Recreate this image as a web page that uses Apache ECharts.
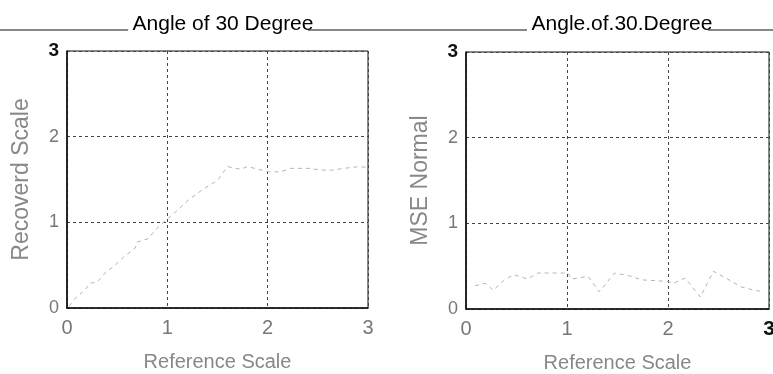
<!DOCTYPE html>
<html>
<head>
<meta charset="utf-8">
<script src="https://cdn.jsdelivr.net/npm/echarts@6/dist/echarts.min.js"></script>
<style>
  html, body { margin: 0; padding: 0; background: #fff; }
  #chart { width: 773px; height: 374px; }
</style>
</head>
<body>
<div id="chart"></div>
<script>
// left panel: recovered scale against reference scale
const refScaleA = [0.02, 0.08, 0.18, 0.23, 0.30, 0.38, 0.48, 0.56, 0.68, 0.70, 0.81, 0.88, 0.98,
  1.08, 1.21, 1.36, 1.50, 1.60, 1.73, 1.80, 2.01, 2.13, 2.23, 2.41, 2.53, 2.65, 2.76, 2.91, 3.0]
const recovered = [0.02, 0.11, 0.21, 0.29, 0.30, 0.41, 0.50, 0.59, 0.70, 0.77, 0.81, 0.91, 1.02,
  1.12, 1.26, 1.39, 1.49, 1.65, 1.62, 1.65, 1.59, 1.59, 1.63, 1.63, 1.61, 1.61, 1.63, 1.65, 1.64]

// right panel: normalised MSE
const refScaleB = [0.09, 0.19, 0.27, 0.37, 0.47, 0.61, 0.71, 0.87, 1.01, 1.04, 1.21, 1.32, 1.47,
  1.61, 1.74, 1.90, 2.0, 2.05, 2.17, 2.32, 2.45, 2.59, 2.72, 2.85, 2.95]
const mseNormal = [0.27, 0.30, 0.22, 0.33, 0.40, 0.35, 0.42, 0.42, 0.42, 0.35, 0.38, 0.20, 0.42,
  0.39, 0.34, 0.33, 0.32, 0.30, 0.36, 0.14, 0.44, 0.35, 0.26, 0.22, 0.20]

const titles = ['Angle of 30 Degree', 'Angle.of.30.Degree']
const yNames = ['Recoverd Scale', 'MSE Normal']
const xName = 'Reference Scale'

const FONT = 'Liberation Sans, Arial, sans-serif'
const chart = echarts.init(document.getElementById('chart'))

const pair = (xs, ys) => xs.map((x, i) => [x, ys[i]])

const splitLine = { show: true, lineStyle: { color: '#444', type: [3, 3], width: 1 } }
const axisLine = { show: true, onZero: false, lineStyle: { color: '#111', width: 1.6 } }

// bold black label for the end tick, grey for the rest
const tickLabel = (size, boldLast) => ({
  fontFamily: FONT,
  fontSize: size,
  color: '#777',
  formatter: v => (boldLast && v === 3 ? '{b|3}' : String(v)),
  rich: { b: { fontFamily: FONT, fontSize: size + 1, fontWeight: 'bold', color: '#111' } }
})

const makeX = (idx, boldLast) => ({
  type: 'value', gridIndex: idx, min: 0, max: 3, interval: 1,
  name: xName, nameLocation: 'middle', nameGap: 44,
  nameTextStyle: { fontFamily: FONT, fontSize: 20, color: '#888' },
  axisLine, axisTick: { show: false }, splitLine,
  axisLabel: Object.assign(tickLabel(20, boldLast), { margin: 10 })
})

const makeY = idx => ({
  type: 'value', gridIndex: idx, min: 0, max: 3, interval: 1,
  name: yNames[idx], nameLocation: 'middle', nameGap: 34,
  nameTextStyle: { fontFamily: FONT, fontSize: 23, color: '#888' },
  axisLine, axisTick: { show: false }, splitLine,
  axisLabel: Object.assign(tickLabel(18, true), { margin: 8 })
})

const lineSeries = (idx, data) => ({
  type: 'line', xAxisIndex: idx, yAxisIndex: idx, data,
  symbol: 'none', smooth: false,
  lineStyle: { color: '#b4b4b4', width: 1, type: [4, 4] }
})

chart.setOption({
  backgroundColor: '#fff',
  animation: false,
  title: [
    { text: titles[0], left: 218, top: 9, textAlign: 'center',
      textStyle: { fontFamily: FONT, fontSize: 21, fontWeight: 'normal', color: '#000' } },
    { text: titles[1], left: 617, top: 9, textAlign: 'center',
      textStyle: { fontFamily: FONT, fontSize: 21, fontWeight: 'normal', color: '#000' } }
  ],
  grid: [
    { left: 67, right: 405, top: 51, bottom: 66, show: true, borderColor: '#111', borderWidth: 1,
      outerBoundsMode: 'none' },
    { left: 466, right: 4, top: 52, bottom: 65, show: true, borderColor: '#111', borderWidth: 1,
      outerBoundsMode: 'none' }
  ],
  xAxis: [makeX(0, false), makeX(1, true)],
  yAxis: [makeY(0), makeY(1)],
  series: [
    lineSeries(0, pair(refScaleA, recovered)),
    lineSeries(1, pair(refScaleB, mseNormal))
  ],
  // the rule running through the title line of the scanned figure
  graphic: [
    { type: 'line', shape: { x1: 0, y1: 30, x2: 128, y2: 30 }, style: { stroke: '#111', lineWidth: 1.2 } },
    { type: 'line', shape: { x1: 308, y1: 30, x2: 527, y2: 30 }, style: { stroke: '#111', lineWidth: 1.2 } },
    { type: 'line', shape: { x1: 708, y1: 30, x2: 773, y2: 30 }, style: { stroke: '#111', lineWidth: 1.2 } }
  ]
})
</script>
</body>
</html>
